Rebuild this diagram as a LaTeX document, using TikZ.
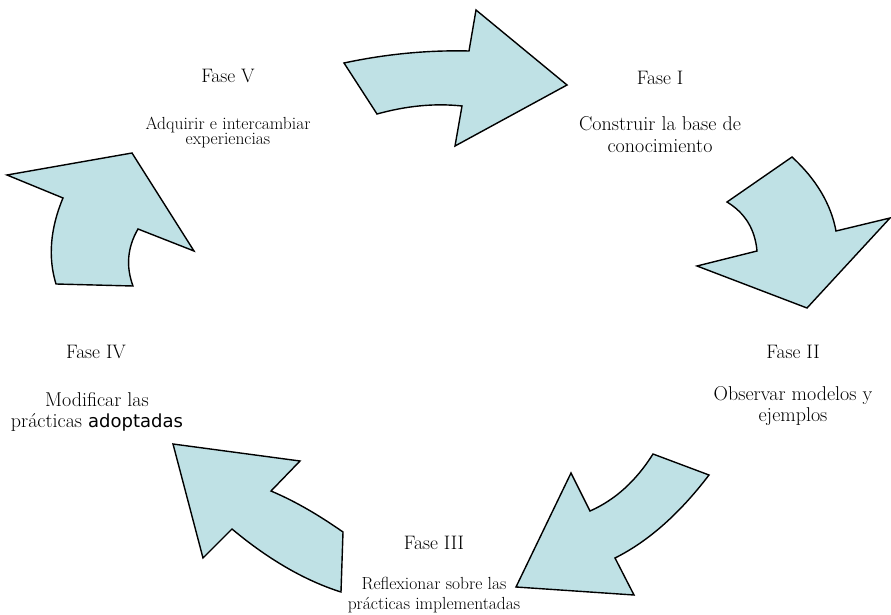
\documentclass[tikz,border=0pt]{standalone}
\usepackage{fontspec}
\newfontfamily\adoptfont{DejaVu Sans}
\definecolor{arrowFill}{RGB}{191,225,229}
\begin{document}
\begin{tikzpicture}[x=1pt,y=-1pt,
    faseArrow/.style={fill=arrowFill,draw=black,line width=1.4pt,line join=miter},
    faseTitle/.style={anchor=base,inner sep=0pt,font=\fontsize{19.5}{22}\selectfont},
    faseText/.style={anchor=base,inner sep=0pt,align=center,font=\fontsize{20}{21}\selectfont},
    faseSmall/.style={anchor=base,inner sep=0pt,align=center,font=\fontsize{17.5}{20}\selectfont}]
        \useasboundingbox (0,0) rectangle (891,615);
        % arrows
        \draw[faseArrow] (344,63) .. controls (386,54) and (428,50) .. (469,51) -- (476,10) -- (567,85)
            -- (455,146) -- (462,106) .. controls (434,103) and (406,106) .. (377,114) -- cycle;
        \draw[faseArrow] (792,157) .. controls (816,179) and (831,204) .. (836,231) -- (890,218) -- (807,308)
            -- (697,266) -- (757,251) .. controls (755,229) and (745,213) .. (727,202) -- cycle;
        \draw[faseArrow] (709,475) .. controls (680,513) and (649,541) .. (615,558) -- (634,595) -- (516,587)
            -- (571,473) -- (590,511) .. controls (615,500) and (636,481) .. (653,454) -- cycle;
        \draw[faseArrow] (343,532) -- (341,592) .. controls (306,581) and (269,560) .. (232,529) -- (203,558)
            -- (173,444) -- (300,461) -- (271,491) .. controls (297,502) and (320,516) .. cycle;
        \draw[faseArrow] (56,284) .. controls (48,258) and (50,229) .. (63,198) -- (7,175) -- (132,153)
            -- (194,251) -- (138,229) .. controls (127,248) and (126,267) .. (133,286) -- cycle;
        % labels
        \node[faseTitle] (f1) at (660,85) {Fase I};
        \node[faseText] (t1) at (660,152) {Construir la base de\\conocimiento};
        \node[faseTitle] (f2) at (793,358) {Fase II};
        \node[faseText] (t2) at (793,421) {Observar modelos y\\ejemplos};
        \node[faseTitle] (f3) at (434,549) {Fase III};
        \node[faseSmall] (t3) at (434,609) {Reflexionar sobre las\\prácticas implementadas};
        \node[faseTitle] (f4) at (96,358) {Fase IV};
        \node[faseText] (t4) at (97,427) {Modificar las\\prácticas {\adoptfont\fontsize{18}{21}\selectfont adoptadas}};
        \node[faseTitle] (f5) at (228,83) {Fase V};
        \node[faseSmall,font=\fontsize{17.5}{16}\selectfont] (t5) at (228,145) {Adquirir e intercambiar\\experiencias};
\end{tikzpicture}
\end{document}
